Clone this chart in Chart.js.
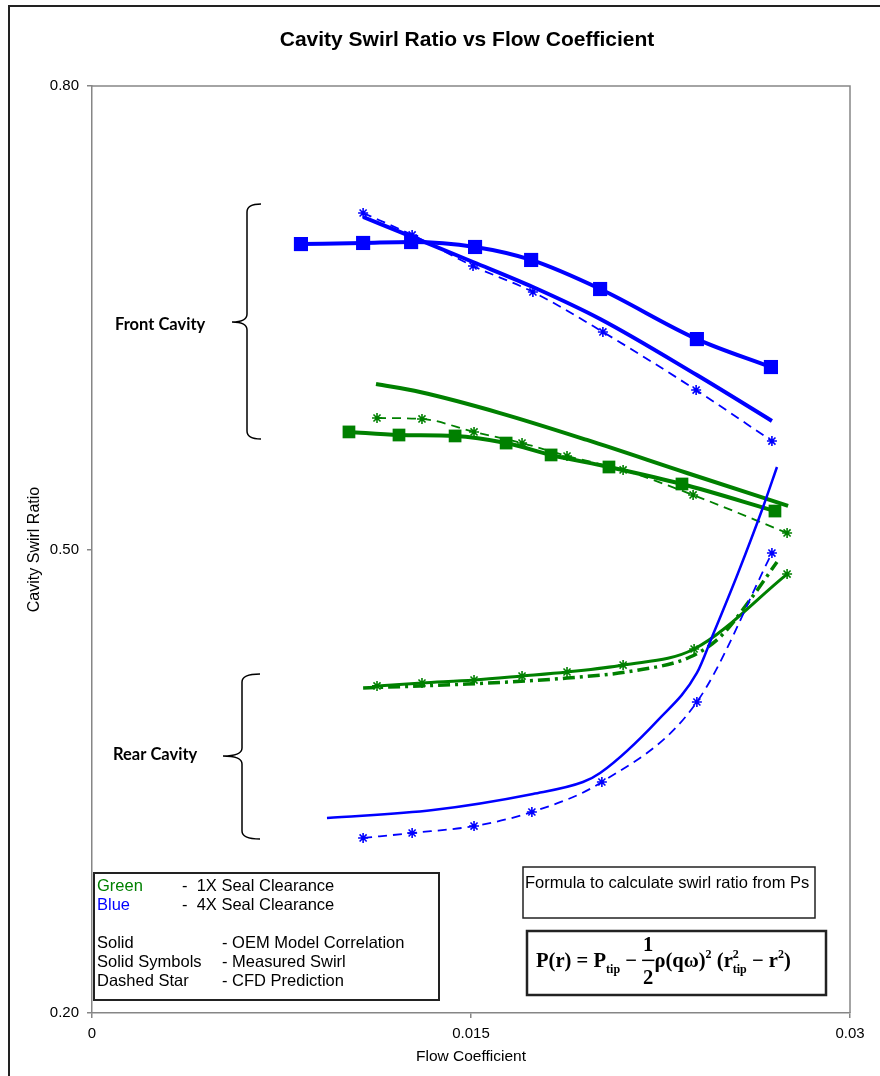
<!DOCTYPE html>
<html>
<head>
<meta charset="utf-8">
<script src="https://cdn.jsdelivr.net/npm/chart.js@4.4.1/dist/chart.umd.min.js"></script>
<style>
  html, body { margin: 0; padding: 0; background: #fff; }
  canvas { display: block; }
</style>
</head>
<body>
<canvas id="chart" width="880" height="1076"></canvas>
<script>
// axis ticks
const xTicks = [0, 0.015, 0.03];
const xTickLabels = ['0', '0.015', '0.03'];
const yTicks = [0.20, 0.50, 0.80];
const yTickLabels = ['0.20', '0.50', '0.80'];

// front cavity, 4X clearance (blue)
const blueMeasX = [0.00827, 0.01073, 0.01263, 0.01516, 0.01738, 0.02011, 0.02394, 0.02687];
const blueMeasY = [0.6977, 0.6984, 0.6990, 0.6958, 0.6874, 0.6686, 0.6362, 0.6181];
const blueModelFrontX = [0.01073, 0.01267, 0.01508, 0.01745, 0.02011, 0.02394, 0.02691];
const blueModelFrontY = [0.7152, 0.7023, 0.6861, 0.6699, 0.6492, 0.6129, 0.5832];
const blueCfdFrontX = [0.01073, 0.01267, 0.01508, 0.01745, 0.02022, 0.02391, 0.02691];
const blueCfdFrontY = [0.7178, 0.7036, 0.6835, 0.6667, 0.6408, 0.6032, 0.5702];

// front cavity, 1X clearance (green)
const greenModelFrontX = [0.01124, 0.01298, 0.01615, 0.01959, 0.02355, 0.02755];
const greenModelFrontY = [0.6071, 0.6019, 0.5883, 0.5709, 0.5495, 0.5282];
const greenMeasX = [0.01017, 0.01215, 0.01437, 0.01639, 0.01817, 0.02046, 0.02335, 0.02703];
const greenMeasY = [0.5761, 0.5741, 0.5735, 0.5689, 0.5612, 0.5534, 0.5424, 0.5249];
const greenCfdFrontX = [0.01128, 0.01306, 0.01512, 0.01702, 0.01880, 0.02102, 0.02379, 0.02751];
const greenCfdFrontY = [0.5851, 0.5845, 0.5761, 0.5689, 0.5605, 0.5515, 0.5353, 0.5107];

// rear cavity, 1X clearance (green)
const greenRearStarX = [0.01128, 0.01306, 0.01512, 0.01702, 0.01880, 0.02102, 0.02383, 0.02751];
const greenRearStarY = [0.4117, 0.4136, 0.4155, 0.4181, 0.4207, 0.4252, 0.4356, 0.4841];
const greenRearModelX = [0.01073, 0.01484, 0.01880, 0.02141, 0.02367, 0.02486, 0.02604, 0.02711];
const greenRearModelY = [0.4104, 0.4129, 0.4168, 0.4214, 0.4304, 0.4434, 0.4673, 0.4919];

// rear cavity, 4X clearance (blue)
const blueRearModelX = [0.00930, 0.01350, 0.01745, 0.01943, 0.02011, 0.02240, 0.02394, 0.02454, 0.02557, 0.02656, 0.02711];
const blueRearModelY = [0.3262, 0.3314, 0.3418, 0.3495, 0.3553, 0.3896, 0.4201, 0.4434, 0.4848, 0.5275, 0.5534];
const blueRearCfdX = [0.01073, 0.01267, 0.01512, 0.01741, 0.02018, 0.02394, 0.02691];
const blueRearCfdY = [0.3133, 0.3165, 0.3210, 0.3301, 0.3495, 0.4013, 0.4977];

const BLUE = '#0000ff';
const GREEN = '#008000';

const pts = (xs, ys) => xs.map((x, i) => ({ x: x, y: ys[i] }));

function lineSet(label, xs, ys, color, width, extra) {
    return Object.assign({
        label: label,
        data: pts(xs, ys),
        borderColor: color,
        backgroundColor: color,
        borderWidth: width,
        pointRadius: 0,
        cubicInterpolationMode: 'monotone',
        fill: false
    }, extra || {});
}

const starPts = color => ({ pointStyle: 'star', pointRadius: 5, pointBorderColor: color, pointBorderWidth: 1.6 });
const rectPts = (color, r) => ({ pointStyle: 'rect', pointRadius: r, pointBackgroundColor: color, pointBorderWidth: 0 });

const datasets = [
    lineSet('Blue rear model', blueRearModelX, blueRearModelY, BLUE, 2.5),
    lineSet('Blue rear CFD', blueRearCfdX, blueRearCfdY, BLUE, 1.8, Object.assign({ borderDash: [9, 6] }, starPts(BLUE))),
    lineSet('Green rear dash-dot', greenRearModelX, greenRearModelY, GREEN, 3.5, { borderDash: [12, 5, 3, 5] }),
    lineSet('Green rear star', greenRearStarX, greenRearStarY, GREEN, 3, starPts(GREEN)),
    lineSet('Green front CFD', greenCfdFrontX, greenCfdFrontY, GREEN, 1.8, Object.assign({ borderDash: [9, 6] }, starPts(GREEN))),
    lineSet('Green front model', greenModelFrontX, greenModelFrontY, GREEN, 4),
    lineSet('Green measured', greenMeasX, greenMeasY, GREEN, 4, rectPts(GREEN, 9)),
    lineSet('Blue front CFD', blueCfdFrontX, blueCfdFrontY, BLUE, 1.8, Object.assign({ borderDash: [9, 6] }, starPts(BLUE))),
    lineSet('Blue front model', blueModelFrontX, blueModelFrontY, BLUE, 4),
    lineSet('Blue measured', blueMeasX, blueMeasY, BLUE, 4, rectPts(BLUE, 10))
];

function brace(ctx, vx, hx, tipx, top, mid, bot) {
    ctx.beginPath();
    ctx.moveTo(hx, top);
    ctx.quadraticCurveTo(vx, top, vx, top + 8);
    ctx.lineTo(vx, mid - 8);
    ctx.quadraticCurveTo(vx, mid, tipx, mid);
    ctx.quadraticCurveTo(vx, mid, vx, mid + 8);
    ctx.lineTo(vx, bot - 8);
    ctx.quadraticCurveTo(vx, bot, hx, bot);
    ctx.stroke();
}

function drawFormula(ctx, x, base, size) {
    const big = 'bold ' + size + 'px "Liberation Serif", "Times New Roman", serif';
    const small = 'bold ' + Math.round(size * 0.6) + 'px "Liberation Serif", "Times New Roman", serif';
    let cx = x;
    const put = (t, font, dy) => {
        ctx.font = font;
        ctx.fillText(t, cx, base + (dy || 0));
        cx += ctx.measureText(t).width;
    };
    put('P(r) = P', big);
    put('tip', small, size * 0.28);
    put(' \u2212 ', big);
    ctx.font = big;
    const w1 = ctx.measureText('2').width;
    ctx.fillText('1', cx + 1, base - size * 0.78);
    ctx.fillText('2', cx + 1, base + size * 0.83);
    ctx.fillRect(cx, base - size * 0.36, w1 + 2, 1.5);
    cx += w1 + 2;
    put('\u03C1(q\u03C9)', big);
    put('2', small, -size * 0.45);
    put(' (r', big);
    const sx = cx;
    put('2', small, -size * 0.45);
    cx = sx;
    put('tip', small, size * 0.28);
    put(' \u2212 r', big);
    put('2', small, -size * 0.45);
    put(')', big);
}

const decorations = {
    id: 'decorations',
    afterDraw(chart) {
        const ctx = chart.ctx;
        const a = chart.chartArea;
        ctx.save();

        // plot frame top and right
        ctx.strokeStyle = '#868686';
        ctx.lineWidth = 1.5;
        ctx.beginPath();
        ctx.moveTo(a.left, a.top);
        ctx.lineTo(a.right, a.top);
        ctx.lineTo(a.right, a.bottom);
        ctx.stroke();

        // outer frame
        ctx.strokeStyle = '#222';
        ctx.lineWidth = 2;
        ctx.beginPath();
        ctx.moveTo(9, 1076);
        ctx.lineTo(9, 6);
        ctx.lineTo(880, 6);
        ctx.stroke();

        // title
        ctx.fillStyle = '#000';
        ctx.textAlign = 'center';
        ctx.textBaseline = 'middle';
        ctx.font = 'bold 21px "Liberation Sans", Arial, sans-serif';
        ctx.fillText('Cavity Swirl Ratio vs Flow Coefficient', 467, 40);

        // braces and cavity labels
        ctx.strokeStyle = '#000';
        ctx.lineWidth = 1.5;
        brace(ctx, 247, 261, 232, 204, 322, 439);
        brace(ctx, 242, 260, 223, 674, 756, 839);
        ctx.textAlign = 'left';
        ctx.font = 'bold 16.5px Lato, "Open Sans", sans-serif';
        ctx.fillText('Front Cavity', 115, 325);
        ctx.fillText('Rear Cavity', 113, 755);

        // legend box
        ctx.fillStyle = '#fff';
        ctx.fillRect(94, 873, 345, 127);
        ctx.strokeStyle = '#222';
        ctx.lineWidth = 2;
        ctx.strokeRect(94, 873, 345, 127);
        ctx.font = '16.5px "Liberation Sans", Arial, sans-serif';
        ctx.fillStyle = GREEN;
        ctx.fillText('Green', 97, 886);
        ctx.fillStyle = BLUE;
        ctx.fillText('Blue', 97, 905);
        ctx.fillStyle = '#000';
        ctx.fillText('-  1X Seal Clearance', 182, 886);
        ctx.fillText('-  4X Seal Clearance', 182, 905);
        ctx.fillText('Solid', 97, 943);
        ctx.fillText('Solid Symbols', 97, 962);
        ctx.fillText('Dashed Star', 97, 981);
        ctx.fillText('- OEM Model Correlation', 222, 943);
        ctx.fillText('- Measured Swirl', 222, 962);
        ctx.fillText('- CFD Prediction', 222, 981);

        // formula boxes
        ctx.fillStyle = '#fff';
        ctx.fillRect(523, 867, 292, 51);
        ctx.strokeStyle = '#222';
        ctx.lineWidth = 1.5;
        ctx.strokeRect(523, 867, 292, 51);
        ctx.fillStyle = '#000';
        ctx.font = '16.5px "Liberation Sans", Arial, sans-serif';
        ctx.fillText('Formula to calculate swirl ratio from Ps', 525, 883);

        ctx.fillStyle = '#fff';
        ctx.fillRect(527, 931, 299, 64);
        ctx.lineWidth = 2.5;
        ctx.strokeRect(527, 931, 299, 64);
        ctx.fillStyle = '#000';
        ctx.textBaseline = 'alphabetic';
        drawFormula(ctx, 536, 967, 20.6);

        ctx.restore();
    }
};

new Chart(document.getElementById('chart').getContext('2d'), {
    type: 'line',
    data: { datasets: datasets },
    options: {
        responsive: false,
        animation: false,
        devicePixelRatio: 1,
        layout: { padding: { top: 86, right: 30, left: 0, bottom: 0 } },
        plugins: {
            legend: { display: false },
            tooltip: { enabled: false },
            title: { display: false }
        },
        scales: {
            x: {
                type: 'linear',
                min: 0,
                max: 0.03,
                afterBuildTicks: s => { s.ticks = xTicks.map(v => ({ value: v })); },
                afterFit: s => { s.height = 63; },
                ticks: {
                    callback: (v, i) => xTickLabels[i],
                    color: '#000',
                    padding: 7,
                    maxRotation: 0,
                    font: { family: '"Liberation Sans", Arial, sans-serif', size: 15 }
                },
                grid: { display: true, drawOnChartArea: false, tickLength: 5, color: '#868686', lineWidth: 1.5 },
                border: { display: true, color: '#868686', width: 1.5 },
                title: {
                    display: true,
                    text: 'Flow Coefficient',
                    color: '#000',
                    padding: { top: 0, bottom: 10 },
                    font: { family: '"Liberation Sans", Arial, sans-serif', size: 15.5 }
                }
            },
            y: {
                type: 'linear',
                min: 0.2,
                max: 0.8,
                afterBuildTicks: s => { s.ticks = yTicks.map(v => ({ value: v })); },
                afterFit: s => { s.width = 92; },
                ticks: {
                    callback: (v, i) => yTickLabels[i],
                    color: '#000',
                    padding: 8,
                    font: { family: '"Liberation Sans", Arial, sans-serif', size: 15 }
                },
                grid: { display: true, drawOnChartArea: false, tickLength: 5, color: '#868686', lineWidth: 1.5 },
                border: { display: true, color: '#868686', width: 1.5 },
                title: {
                    display: true,
                    text: 'Cavity Swirl Ratio',
                    color: '#000',
                    padding: { top: 25, bottom: 0 },
                    font: { family: '"Liberation Sans", Arial, sans-serif', size: 16 }
                }
            }
        }
    },
    plugins: [decorations]
});
</script>
</body>
</html>
